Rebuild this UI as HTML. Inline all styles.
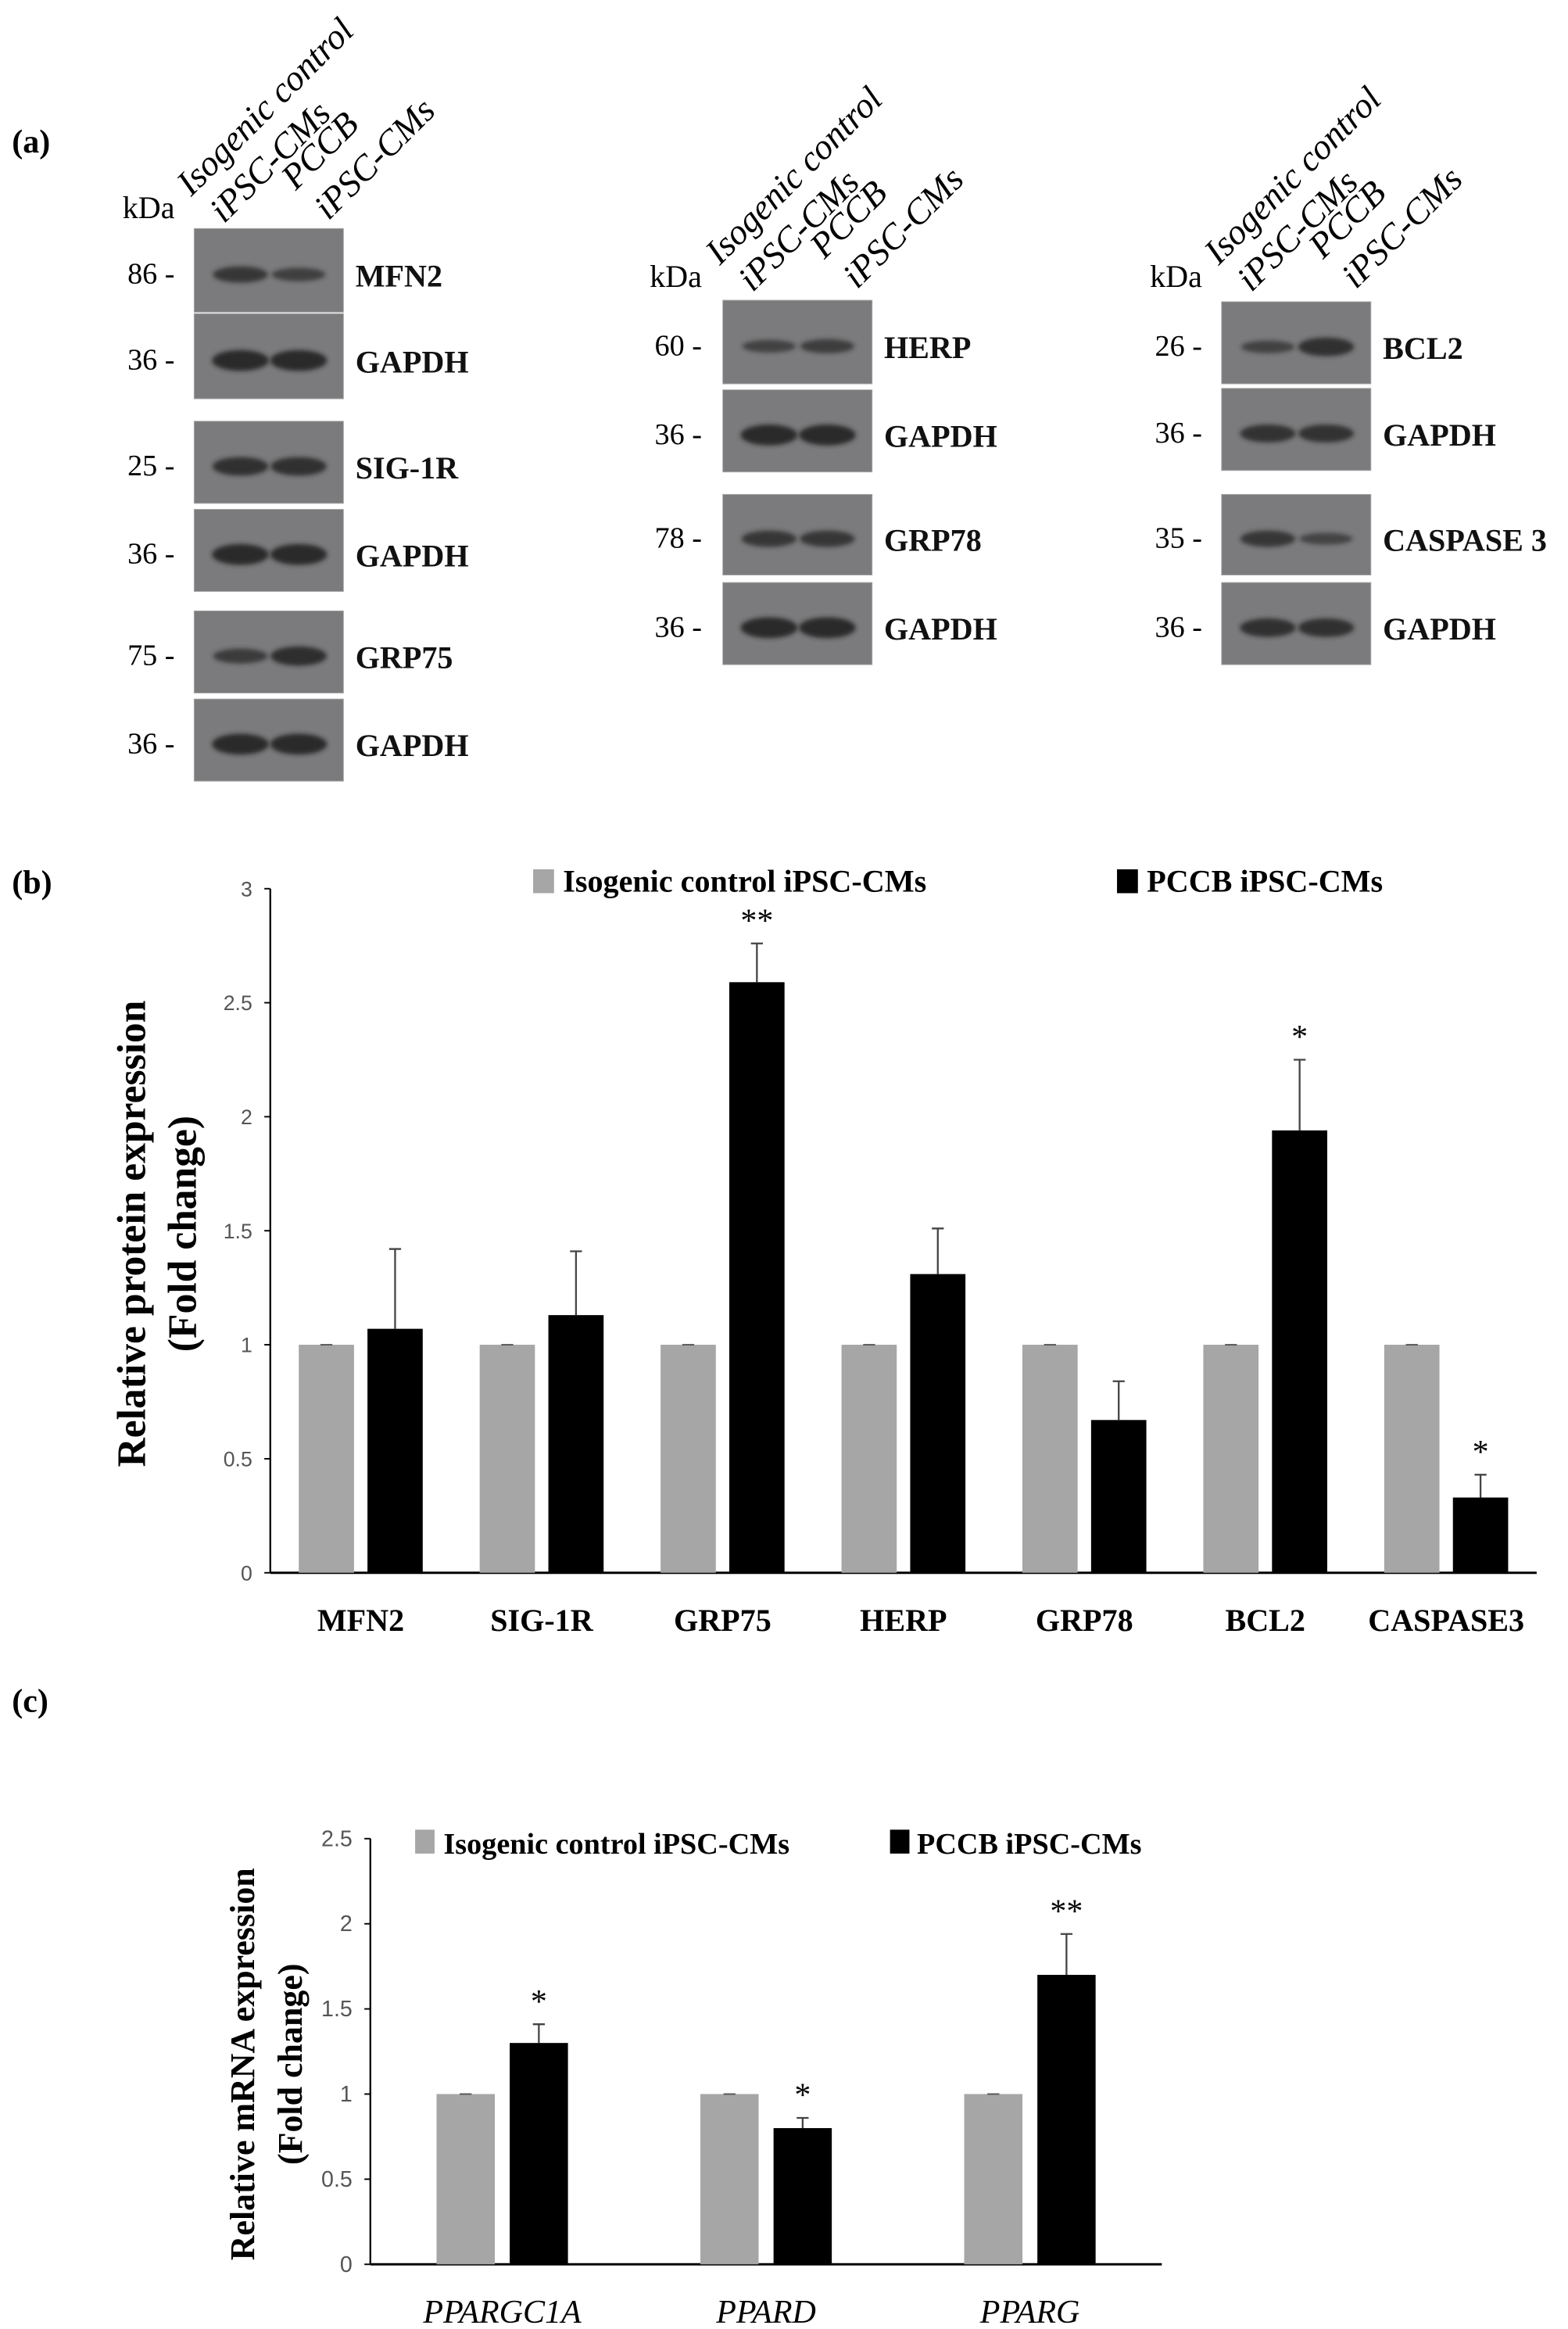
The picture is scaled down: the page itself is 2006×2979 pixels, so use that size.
<!DOCTYPE html>
<html><head><meta charset="utf-8"><style>
html,body{margin:0;padding:0;background:#fff;}
svg{display:block;}
.serif{font-family:"Liberation Serif",serif;}
</style></head>
<body>
<svg id="fig" width="2006" height="2979" viewBox="0 0 1050 1559.3" xmlns="http://www.w3.org/2000/svg">
<defs><filter id="blur" x="-20%" y="-50%" width="140%" height="200%"><feGaussianBlur stdDeviation="1.6"/></filter></defs>
<g id="panelA"></g>
<g id="panelB"></g>
<g id="panelC"></g>
</svg>
<script>
const NS="http://www.w3.org/2000/svg";
function mk(parent,tag,attrs,text){const e=document.createElementNS(NS,tag);for(const k in attrs)e.setAttribute(k,attrs[k]);if(text!==undefined)e.textContent=text;parent.appendChild(e);return e;}

/* ---------- Panel A: blots ---------- */
const blotColumns=[
 {x:130,kx:117,kdaY:146,laneY:130,rows:[
  {name:"MFN2",kda:"86",y:153,b1:0.7,b2:0.5,h:56},
  {name:"GAPDH",kda:"36",y:210,b1:1,b2:1,h:57},
  {name:"SIG-1R",kda:"25",y:282,b1:0.85,b2:0.85,h:55},
  {name:"GAPDH",kda:"36",y:341,b1:1,b2:1,h:55},
  {name:"GRP75",kda:"75",y:409,b1:0.6,b2:0.9,h:55},
  {name:"GAPDH",kda:"36",y:468,b1:1,b2:1,h:55}]},
 {x:484,kx:470,kdaY:192,laneY:176,rows:[
  {name:"HERP",kda:"60",y:201,b1:0.45,b2:0.55,h:56},
  {name:"GAPDH",kda:"36",y:261,b1:1,b2:1,h:55},
  {name:"GRP78",kda:"78",y:331,b1:0.7,b2:0.7,h:54},
  {name:"GAPDH",kda:"36",y:390,b1:1,b2:1,h:55}]},
 {x:818,kx:805,kdaY:192,laneY:176,rows:[
  {name:"BCL2",kda:"26",y:202,b1:0.45,b2:0.85,h:55},
  {name:"GAPDH",kda:"36",y:260,b1:0.8,b2:0.8,h:55},
  {name:"CASPASE 3",kda:"35",y:331,b1:0.7,b2:0.4,h:54},
  {name:"GAPDH",kda:"36",y:390,b1:0.85,b2:0.85,h:55}]}
];
const A=document.getElementById('panelA');
const la=mk(A,'text',{x:8,y:102,'font-size':22,class:'serif','font-weight':'bold'},'(a)');


blotColumns.forEach((col,ci)=>{
  const kd=mk(A,'text',{x:col.kx,y:col.kdaY,'font-size':21,class:'serif','text-anchor':'end'},'kDa');
  
  
  const lanes=[["Isogenic control",-2,2],["iPSC-CMs",20,20],["PCCB",68,-2],["iPSC-CMs",90,18]];
  lanes.forEach(([t,dx,dy])=>{
    const tx=mk(A,'text',{x:0,y:0,'font-size':24,class:'serif','font-style':'italic',transform:`translate(${col.x+dx},${col.laneY+dy}) rotate(-45)`},t);
    
    
  });
  col.rows.forEach(r=>{
    const g=mk(A,'g',{});
    
    
    mk(g,'rect',{x:col.x,y:r.y,width:100,height:r.h,fill:'#7b7b7d',stroke:'#aaa','stroke-width':0.5});
    const by=r.y+r.h*0.55;
    [[col.x+31,r.b1],[col.x+70,r.b2]].forEach(([cx,s])=>{
      mk(g,'ellipse',{cx:cx,cy:by,rx:17+s*2,ry:2+s*5,fill:'#262626',opacity:0.45+0.5*s,filter:'url(#blur)'});
    });
    const nm=mk(A,'text',{x:col.x+108,y:by+8,'font-size':21,class:'serif','font-weight':'bold',fill:'#111'},r.name);
    
    
    const kk=mk(A,'text',{x:col.kx,y:by+6,'font-size':20,class:'serif','text-anchor':'end'},r.kda+' -');
    
    
  });
});

/* ---------- Panel B data ---------- */
const bCategories=["MFN2","SIG-1R","GRP75","HERP","GRP78","BCL2","CASPASE3"];
const bControl=[1,1,1,1,1,1,1];
const bPCCB=[1.07,1.13,2.59,1.31,0.67,1.94,0.33];
const bPCCBErr=[0.35,0.28,0.17,0.20,0.17,0.31,0.10];
const bSig=["","","**","","","*","*"];
const bTicks=["0","0.5","1","1.5","2","2.5","3"];

/* ---------- Panel C data ---------- */
const cCategories=["PPARGC1A","PPARD","PPARG"];
const cControl=[1,1,1];
const cPCCB=[1.30,0.80,1.70];
const cPCCBErr=[0.11,0.06,0.24];
const cSig=["*","*","**"];
const cTicks=["0","0.5","1","1.5","2","2.5"];

function chart(root,o){
  const yS=v=>o.y0-(v/o.ymax)*(o.y0-o.y1);
  const step=(o.xEnd-o.x0)/o.cats.length;
  const xC=i=>o.x0+step*(i+0.5);
  const ya=mk(root,'line',{x1:o.x0,y1:o.y1,x2:o.x0,y2:o.y0,stroke:'#000','stroke-width':1.2});
  
  
  const xa=mk(root,'line',{x1:o.x0,y1:o.y0,x2:o.xEnd,y2:o.y0,stroke:'#000','stroke-width':1.6});
  
  
  o.ticks.forEach(t=>{
    const v=parseFloat(t),y=yS(v);
    mk(root,'line',{x1:o.x0-4,y1:y,x2:o.x0,y2:y,stroke:'#000','stroke-width':1});
    const tl=mk(root,'text',{x:o.x0-12,y:y+5,'font-size':o.tickFs,'font-family':'"Liberation Sans",sans-serif','text-anchor':'end',fill:'#555'},t);
    
    
  });
  o.cats.forEach((c,i)=>{
    const cx=xC(i);
    const g1=mk(root,'rect',{x:cx-o.off-o.bw,y:yS(o.ctrl[i]),width:o.bw,height:o.y0-yS(o.ctrl[i]),fill:'#a6a6a6'});
    
    
    mk(root,'line',{x1:cx-o.off-o.bw/2-4,y1:yS(o.ctrl[i]),x2:cx-o.off-o.bw/2+4,y2:yS(o.ctrl[i]),stroke:'#555','stroke-width':1});
    const yb=yS(o.pccb[i]);
    const b1=mk(root,'rect',{x:cx+o.off,y:yb,width:o.bw,height:o.y0-yb,fill:'#000'});
    
    
    const ex=cx+o.off+o.bw/2,ye=yS(o.pccb[i]+o.err[i]);
    const el=mk(root,'path',{d:`M${ex},${yb} V${ye} M${ex-4},${ye} H${ex+4}`,stroke:'#444','stroke-width':1.2,fill:'none'});
    
    
    if(o.sig[i]){
      const s=mk(root,'text',{x:ex,y:ye-8,'font-size':o.sigFs,class:'serif','text-anchor':'middle'},o.sig[i]);
      
      
    }
    const xl=mk(root,'text',{x:cx,y:o.labY,'font-size':o.labFs,class:'serif','font-weight':o.italic?'normal':'bold','font-style':o.italic?'italic':'normal','text-anchor':'middle'},c);
    
    
  });
  return {xC};
}

/* Panel B */
const B=document.getElementById('panelB');
const lb=mk(B,'text',{x:8,y:598,'font-size':22,class:'serif','font-weight':'bold'},'(b)');


chart(B,{cats:bCategories,ctrl:bControl,pccb:bPCCB,err:bPCCBErr,sig:bSig,ticks:bTicks,ymax:3,x0:181,xEnd:1029,y0:1053,y1:595,bw:37,off:4.5,tickFs:14,sigFs:22,labY:1092,labFs:21,italic:false});
[['#a6a6a6',357,377,'Isogenic control iPSC-CMs','legend-entry-control'],['#000',748,768,'PCCB iPSC-CMs','legend-entry-pccb']].forEach(([f,sx,tx,t,n])=>{
  const g=mk(B,'g',{});
  
  
  mk(g,'rect',{x:sx,y:582,width:14,height:16,fill:f});
  mk(g,'text',{x:tx,y:597,'font-size':21,class:'serif','font-weight':'bold'},t);
});
const yb=mk(B,'text',{'font-size':27,class:'serif','font-weight':'bold','text-anchor':'middle',transform:'translate(97,826) rotate(-90)'},'Relative protein expression');


const yb2=mk(B,'text',{'font-size':27,class:'serif','font-weight':'bold','text-anchor':'middle',transform:'translate(131,826) rotate(-90)'},'(Fold change)');



/* Panel C */
const C=document.getElementById('panelC');
const lc=mk(C,'text',{x:8,y:1146,'font-size':22,class:'serif','font-weight':'bold'},'(c)');


chart(C,{cats:cCategories,ctrl:cControl,pccb:cPCCB,err:cPCCBErr,sig:cSig,ticks:cTicks,ymax:2.5,x0:248,xEnd:778,y0:1516,y1:1231,bw:39,off:5,tickFs:15,sigFs:22,labY:1555,labFs:22,italic:true});
[['#a6a6a6',278,297,'Isogenic control iPSC-CMs','legend-entry-control'],['#000',596,614,'PCCB iPSC-CMs','legend-entry-pccb']].forEach(([f,sx,tx,t,n])=>{
  const g=mk(C,'g',{});
  
  
  mk(g,'rect',{x:sx,y:1225,width:13,height:16,fill:f});
  mk(g,'text',{x:tx,y:1241,'font-size':20,class:'serif','font-weight':'bold'},t);
});
const yc=mk(C,'text',{'font-size':23,class:'serif','font-weight':'bold','text-anchor':'middle',transform:'translate(170,1382) rotate(-90)'},'Relative mRNA expression');


const yc2=mk(C,'text',{'font-size':23,class:'serif','font-weight':'bold','text-anchor':'middle',transform:'translate(202,1382) rotate(-90)'},'(Fold change)');


</script>
</body></html>
